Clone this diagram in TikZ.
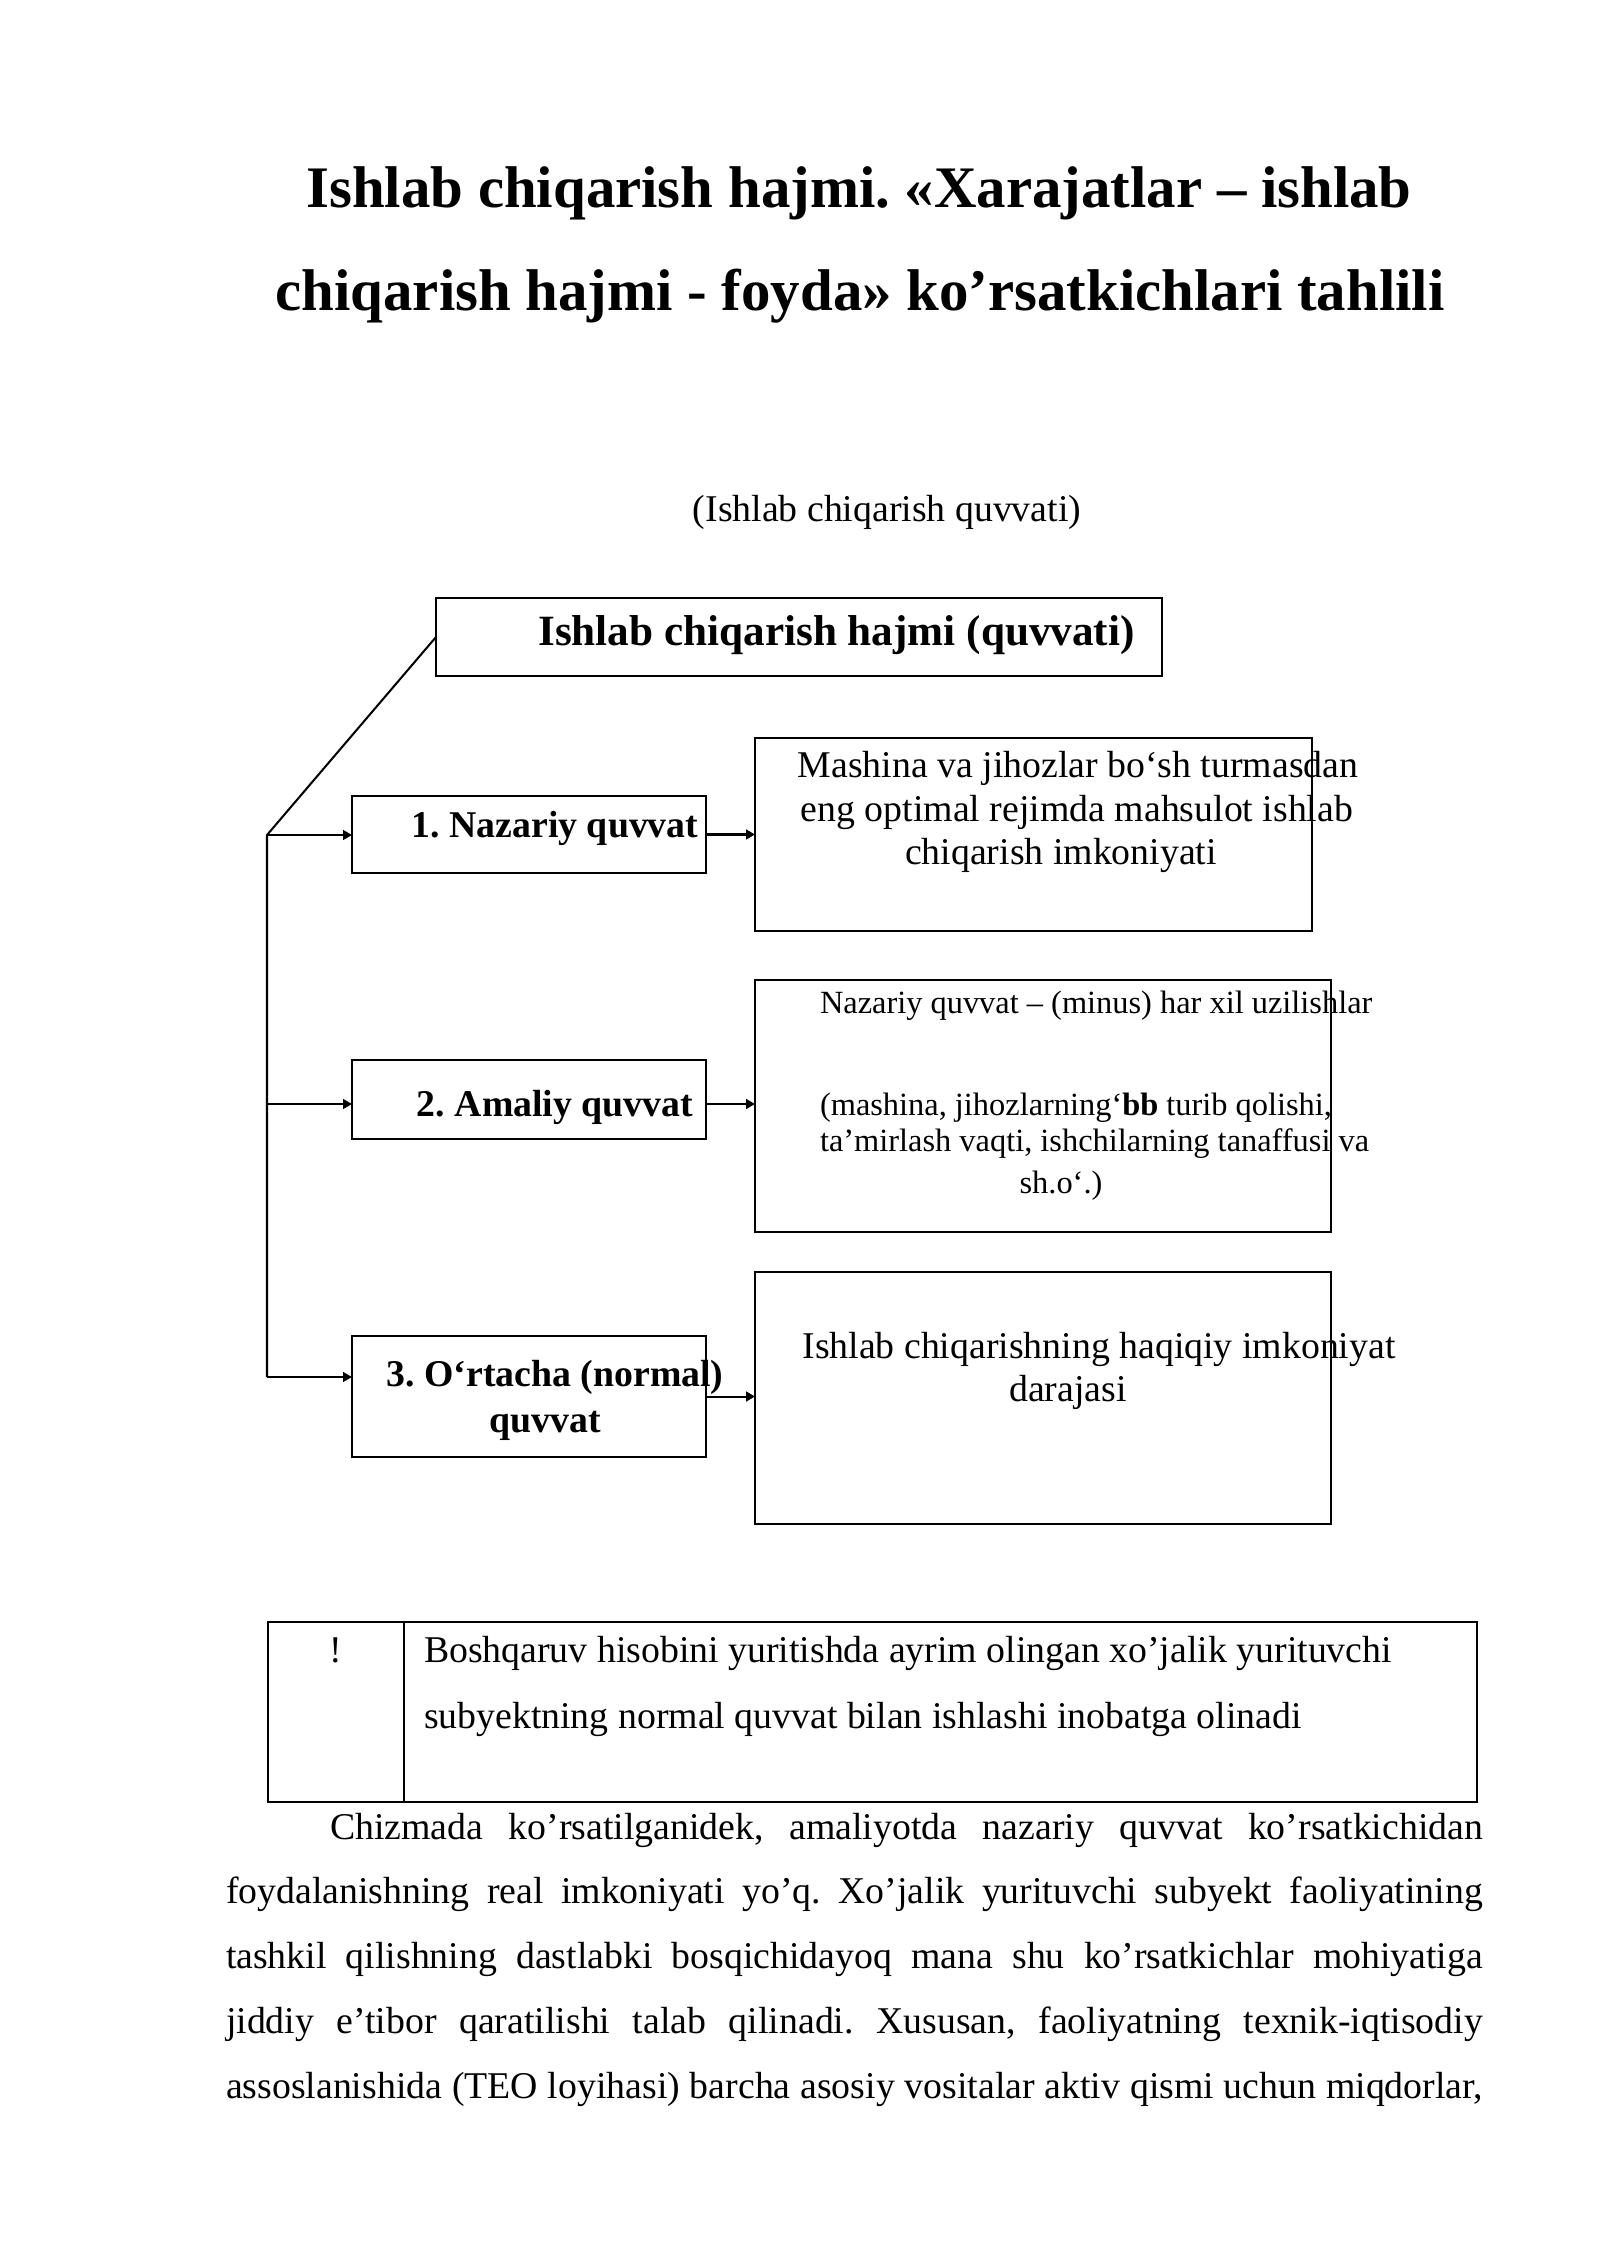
\documentclass[tikz,border=0pt]{standalone}
\usepackage{fontspec}
\setmainfont{Liberation Serif}
\usetikzlibrary{arrows.meta}
\frenchspacing
\def\pxu{0.3704pt}
\newcommand\fsz[1]{\fontsize{#1}{#1}\selectfont}
\newlength\bodyw \setlength\bodyw{465.6pt}
\newlength\firstw \setlength\firstw{427.1pt}
\tikzset{
  box/.style={draw, line width=0.75pt, rectangle, inner sep=0pt, outer sep=0pt},
  conn/.style={line width=0.75pt},
  arr/.style={conn, -{Triangle[length=3.3pt,width=3.6pt]}},
  txt/.style={inner sep=0pt, outer sep=0pt, anchor=base},
  ltxt/.style={inner sep=0pt, outer sep=0pt, anchor=base west},
}
\begin{document}
\begin{tikzpicture}[x=0.3704pt, y=-0.3704pt]
\useasboundingbox[fill=white] (0,0) rectangle (1600,2262);

% title
\node[txt] (t1) at (859,207) {\fsz{21.8}\bfseries Ishlab chiqarish hajmi. «Xarajatlar – ishlab};
\node[txt] (t2) at (860,310) {\fsz{21.8}\bfseries chiqarish hajmi - foyda» ko’rsatkichlari tahlili};
\node[txt] (sub) at (887,521) {\fsz{14}(Ishlab chiqarish quvvati)};

% boxes
\node[box, minimum width={726*\pxu}, minimum height={78*\pxu}] (main) at (799,637) {};
\node[box, minimum width={354*\pxu}, minimum height={77*\pxu}] (b1) at (529,834.5) {};
\node[box, minimum width={557*\pxu}, minimum height={193*\pxu}] (r1) at (1033.5,834.5) {};
\node[box, minimum width={354*\pxu}, minimum height={79*\pxu}] (b2) at (529,1099.5) {};
\node[box, minimum width={576*\pxu}, minimum height={252*\pxu}] (r2) at (1043,1106) {};
\node[box, minimum width={354*\pxu}, minimum height={121*\pxu}] (b3) at (529,1396.5) {};
\node[box, minimum width={576*\pxu}, minimum height={252*\pxu}] (r3) at (1043,1398) {};

% box texts
\node[txt] (mt) at (836.5,645) {\fsz{16}\bfseries Ishlab chiqarish hajmi (quvvati)};
\node[txt] (b1t) at (555,837) {\fsz{14}\bfseries 1. Nazariy quvvat};
\node[txt] (b2t) at (555,1116) {\fsz{14}\bfseries 2. Amaliy quvvat};
\node[txt] (b3ta) at (555,1386) {\fsz{14}\bfseries 3. O‘rtacha (normal)};
\node[txt] (b3tb) at (545,1432) {\fsz{14}\bfseries quvvat};

\node[txt] (r1a) at (1078,777) {\fsz{14}Mashina va jihozlar bo‘sh turmasdan};
\node[txt] (r1b) at (1077,821) {\fsz{14}eng optimal rejimda mahsulot ishlab};
\node[txt] (r1c) at (1061,864) {\fsz{14}chiqarish imkoniyati};

\node[ltxt] (r2a) at (820,1013) {\fsz{12}Nazariy quvvat – (minus) har xil uzilishlar};
\node[ltxt] (r2b) at (820,1115) {\fsz{12}(mashina, jihozlarning‘\textbf{bb} turib qolishi,};
\node[ltxt] (r2c) at (820,1151) {\fsz{12}ta’mirlash vaqti, ishchilarning tanaffusi va};
\node[txt] (r2d) at (1061,1193) {\fsz{12}sh.o‘.)};

\node[txt] (r3a) at (1099,1358) {\fsz{14}Ishlab chiqarishning haqiqiy imkoniyat};
\node[txt] (r3b) at (1068,1401) {\fsz{14}darajasi};

% connectors
\coordinate (j1) at (267,835);
\coordinate (j2) at (267,1104);
\coordinate (j3) at (267,1377);
\draw[conn] (main.west) -- (j1) -- (j3);
\draw[arr] (j1) -- (j1 -| b1.west);
\draw[arr] (j2) -- (j2 -| b2.west);
\draw[arr] (j3) -- (j3 -| b3.west);
\draw[arr] (b1.east) -- (b1.east -| r1.west);
\draw[arr] (j2 -| b2.east) -- (j2 -| r2.west);
\draw[arr] (b3.east) -- (b3.east -| r3.west);

% note table
\node[box, minimum width={1209*\pxu}, minimum height={180*\pxu}] (tab) at (872.5,1712) {};
\coordinate (dv) at (404,1712);
\draw[line width=0.4pt] (tab.north -| dv) -- (tab.south -| dv);
\node[txt] (excl) at (336,1662) {\fsz{14}!};
\node[ltxt] (n1) at (424,1662) {\fsz{14}Boshqaruv hisobini yuritishda ayrim olingan xo’jalik yurituvchi};
\node[ltxt] (n2) at (424,1728) {\fsz{14}subyektning normal quvvat bilan ishlashi inobatga olinadi};

% body text
\node[ltxt] (p1) at (330,1839) {\fsz{14}\makebox[\firstw][s]{Chizmada ko’rsatilganidek, amaliyotda nazariy quvvat ko’rsatkichidan}};
\node[ltxt] (p2) at (226,1903) {\fsz{14}\makebox[\bodyw][s]{foydalanishning real imkoniyati yo’q. Xo’jalik yurituvchi subyekt faoliyatining}};
\node[ltxt] (p3) at (226,1968) {\fsz{14}\makebox[\bodyw][s]{tashkil qilishning dastlabki bosqichidayoq mana shu ko’rsatkichlar mohiyatiga}};
\node[ltxt] (p4) at (226,2033) {\fsz{14}\makebox[\bodyw][s]{jiddiy e’tibor qaratilishi talab qilinadi. Xususan, faoliyatning texnik-iqtisodiy}};
\node[ltxt] (p5) at (226,2098) {\fsz{14}\makebox[\bodyw][s]{assoslanishida (TEO loyihasi) barcha asosiy vositalar aktiv qismi uchun miqdorlar,}};
\end{tikzpicture}
\end{document}
